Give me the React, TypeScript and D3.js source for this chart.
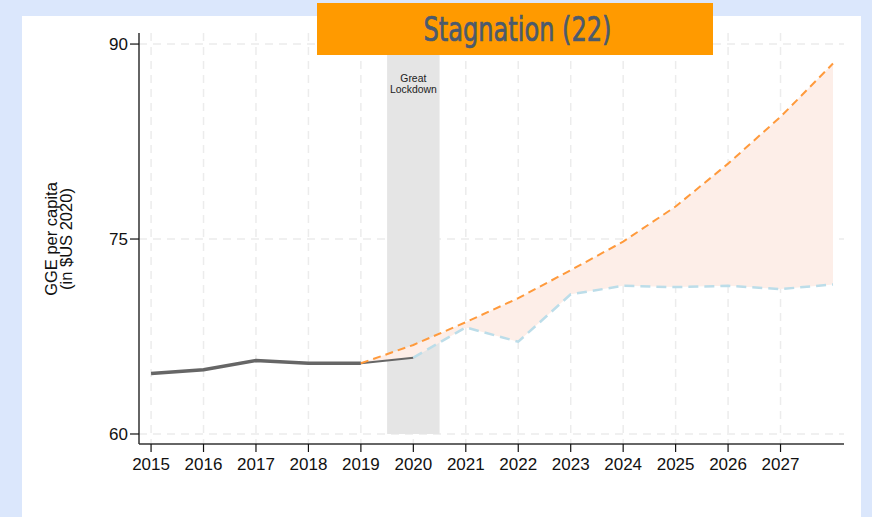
import React from 'react'
import * as d3 from 'd3'

// values
const histYears = [2015, 2016, 2017, 2018, 2019]
const histValues = [64.65, 64.95, 65.65, 65.45, 65.44]
const lockYears = [2019, 2020]
const lockValues = [65.44, 65.87]
const preYears = [2019, 2020, 2021, 2022, 2023, 2024, 2025, 2026, 2027, 2028]
const preValues = [65.44, 66.85, 68.6, 70.45, 72.6, 74.8, 77.5, 80.8, 84.4, 88.5]
const postYears = [2020, 2021, 2022, 2023, 2024, 2025, 2026, 2027, 2028]
const postValues = [65.87, 68.2, 67.1, 70.75, 71.4, 71.3, 71.4, 71.15, 71.5]
const xTicks = [2015, 2016, 2017, 2018, 2019, 2020, 2021, 2022, 2023, 2024, 2025, 2026, 2027]
const yTicks = [60, 75, 90]

const W = 872
const H = 517
const font = '"Liberation Sans", Arial, Helvetica, sans-serif'

export default function App() {
  const x = d3.scaleLinear().domain([2014.77, 2028.21]).range([139, 844])
  const y = d3.scaleLinear().domain([59.23, 90.85]).range([444, 33])

  const line = d3.line<[number, number]>().x(d => x(d[0])).y(d => y(d[1]))

  const hist = histYears.map((yr, i) => [yr, histValues[i]] as [number, number])
  const lock = lockYears.map((yr, i) => [yr, lockValues[i]] as [number, number])
  const pre = preYears.map((yr, i) => [yr, preValues[i]] as [number, number])
  const post = postYears.map((yr, i) => [yr, postValues[i]] as [number, number])

  // lower bound of shaded gap: lockdown line then post-covid path
  const lower = (yr: number) => {
    if (yr <= 2020) return lockValues[lockYears.indexOf(yr)]
    return postValues[postYears.indexOf(yr)]
  }
  const area = d3.area<number>()
    .x(d => x(d))
    .y0(d => y(lower(d)))
    .y1(d => y(preValues[preYears.indexOf(d)]))

  const [y0, y1] = y.range()

  return (
    <svg width={W} height={H} style={{ position: 'absolute', left: 0, top: 0 }}>
      <rect x={0} y={0} width={W} height={H} fill="#dbe7fc" />
      <rect x={22} y={16} width={839} height={H - 16} fill="#ffffff" />

      {/* grid */}
      {yTicks.map(t => (
        <line key={'gy' + t} x1={x(2014.77)} x2={x(2028.21)} y1={y(t)} y2={y(t)}
          stroke="#ececec" strokeWidth={1.5} strokeDasharray="8 6" />
      ))}
      {xTicks.map(t => (
        <line key={'gx' + t} x1={x(t)} x2={x(t)} y1={y1} y2={y0}
          stroke="#ececec" strokeWidth={1.5} strokeDasharray="8 6" />
      ))}

      {/* lockdown band */}
      <rect x={x(2019.5)} y={y(90.85)} width={x(2020.5) - x(2019.5)} height={y(60) - y(90.85)} fill="#e5e5e5" />
      <text x={x(2020)} y={82} fontFamily={font} fontSize={10.4} textAnchor="middle" fill="#222">Great</text>
      <text x={x(2020)} y={92.5} fontFamily={font} fontSize={10.4} textAnchor="middle" fill="#222">Lockdown</text>

      {/* gap between scenarios */}
      <path d={area(preYears) || ''} fill="#fdeee8" />

      <path d={line(hist) || ''} fill="none" stroke="#666666" strokeWidth={3.5} />
      <path d={line(lock) || ''} fill="none" stroke="#666666" strokeWidth={2} />
      <path d={line(post) || ''} fill="none" stroke="#bcdde9" strokeWidth={2.5} strokeDasharray="10 6" />
      <path d={line(pre) || ''} fill="none" stroke="#ff9a3c" strokeWidth={2} strokeDasharray="8 5" />

      {/* axes */}
      <line x1={139} x2={139} y1={y1} y2={y0} stroke="#111" strokeWidth={1.3} />
      <line x1={139} x2={844} y1={y0} y2={y0} stroke="#333" strokeWidth={1.5} />
      {yTicks.map(t => (
        <g key={'ty' + t}>
          <line x1={130} x2={139} y1={y(t)} y2={y(t)} stroke="#111" strokeWidth={1.2} />
          <text x={128} y={y(t) + 6} fontFamily={font} fontSize={17} textAnchor="end" fill="#111">{t}</text>
        </g>
      ))}
      {xTicks.map(t => (
        <g key={'tx' + t}>
          <line x1={x(t)} x2={x(t)} y1={y0} y2={y0 + 8} stroke="#111" strokeWidth={1.2} />
          <text x={x(t)} y={470} fontFamily={font} fontSize={17} textAnchor="middle" fill="#111">{t}</text>
        </g>
      ))}

      <g transform="translate(57,239) rotate(-90)">
        <text x={0} y={0} fontFamily={font} fontSize={16.5} textAnchor="middle" fill="#111">GGE per capita</text>
        <text x={0} y={15} fontFamily={font} fontSize={16.5} textAnchor="middle" fill="#111">(in $US 2020)</text>
      </g>

      {/* title banner */}
      <rect x={317} y={3} width={396} height={52} fill="#ff9a00" />
      <text x={517.5} y={41} fontFamily='"DejaVu Sans Condensed", "Liberation Sans Narrow", sans-serif'
        fontSize={34} textAnchor="middle" fill="#4b5a6e" stroke="#4b5a6e" strokeWidth={0.7}
        textLength={188} lengthAdjust="spacingAndGlyphs">
        Stagnation (22)
      </text>
    </svg>
  )
}
